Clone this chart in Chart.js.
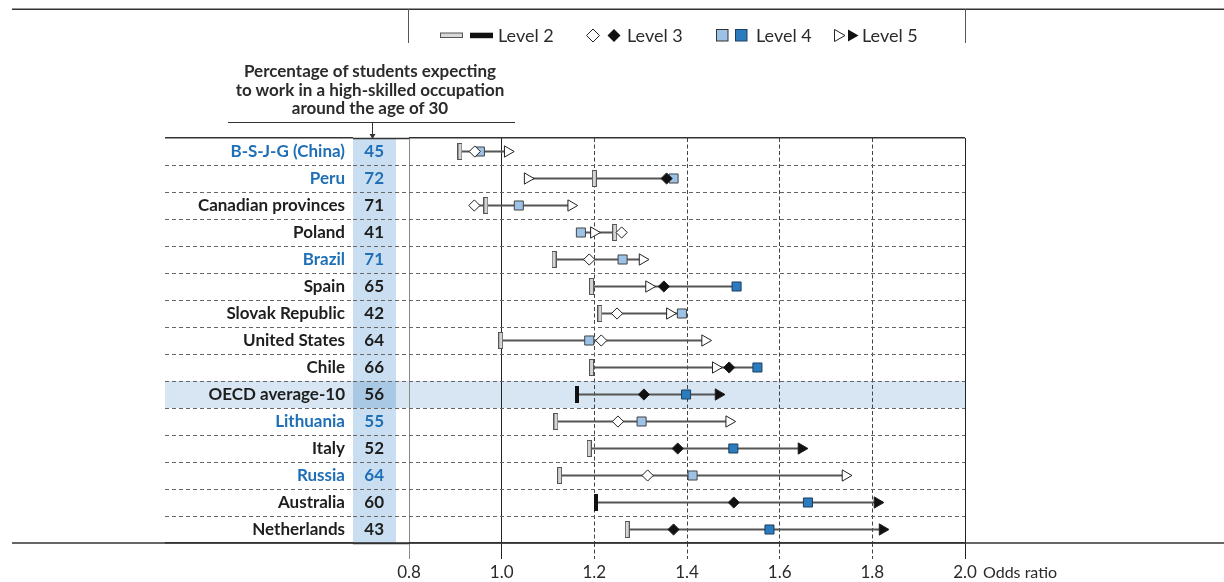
<!DOCTYPE html>
<html>
<head>
<meta charset="utf-8">
<script src="https://cdn.jsdelivr.net/npm/chart.js@4.4.1/dist/chart.umd.min.js"></script>
<style>
  html, body { margin: 0; padding: 0; background: #fff; }
  #wrap { position: relative; width: 1224px; height: 582px; overflow: hidden;
          font-family: Lato, "Open Sans", sans-serif; color: #2b2b2b; }
  #chart { position: absolute; left: 0; top: 0; }
  #overlay { position: absolute; left: 0; top: 0; pointer-events: none; }
  .txt { position: absolute; white-space: nowrap; }
  #colTitle { left: 220px; top: 62px; width: 300px; text-align: center;
              font-weight: bold; font-size: 17px; line-height: 18.5px; }
  .legText { font-size: 18px; line-height: 20px; top: 25px; }
  #axisName { left: 983px; top: 562px; font-size: 16px; line-height: 20px; }
</style>
</head>
<body>
<div id="wrap">
  <canvas id="chart" width="1224" height="582"></canvas>
  <svg id="overlay" width="1224" height="582"></svg>
  <div id="colTitle" class="txt">Percentage of students expecting<br>to work in a high-skilled occupation<br>around the age of 30</div>
  <div id="axisName" class="txt">Odds ratio</div>
</div>
<script>
// Rows, top to bottom
const countries = ["B-S-J-G (China)", "Peru", "Canadian provinces", "Poland", "Brazil", "Spain",
  "Slovak Republic", "United States", "Chile", "OECD average-10", "Lithuania", "Italy",
  "Russia", "Australia", "Netherlands"];
// Percentage of students expecting a high-skilled occupation around age 30
const pctHighSkilled = [45, 72, 71, 41, 71, 65, 42, 64, 66, 56, 55, 52, 64, 60, 43];
// Partner economies are labelled in blue
const partnerRows = [1, 1, 0, 0, 1, 0, 0, 0, 0, 0, 1, 0, 1, 0, 0];
const averageRow = "OECD average-10";

// Odds ratios by proficiency level, with statistical significance flags
const level2    = [0.910, 1.200, 0.966, 1.244, 1.113, 1.194, 1.212, 0.998, 1.194, 1.163, 1.117, 1.189, 1.125, 1.203, 1.271];
const level2Sig = [0, 0, 0, 0, 0, 0, 0, 0, 0, 1, 0, 0, 0, 1, 0];
const level3    = [0.942, 1.356, 0.941, 1.259, 1.189, 1.350, 1.249, 1.215, 1.491, 1.307, 1.251, 1.380, 1.315, 1.501, 1.371];
const level3Sig = [0, 1, 0, 0, 0, 1, 0, 0, 1, 1, 0, 1, 0, 1, 1];
const level4    = [0.953, 1.371, 1.037, 1.171, 1.261, 1.507, 1.389, 1.189, 1.552, 1.398, 1.302, 1.500, 1.412, 1.661, 1.578];
const level4Sig = [0, 0, 0, 0, 0, 1, 0, 0, 1, 1, 0, 1, 0, 1, 1];
const level5    = [1.013, 1.056, 1.150, 1.199, 1.304, 1.318, 1.363, 1.439, 1.462, 1.468, 1.491, 1.647, 1.742, 1.811, 1.822];
const level5Sig = [0, 0, 0, 0, 0, 0, 0, 0, 0, 1, 0, 1, 0, 1, 1];

const levelNames = ["Level 2", "Level 3", "Level 4", "Level 5"];
const oddsTicks = [0.8, 1.0, 1.2, 1.4, 1.6, 1.8, 2.0];

const INK = '#2b2b2b';
const BLUE_TEXT = '#1f6fb6';
const SQ_LIGHT = '#9cc2e5', SQ_DARK = '#2b7bbf';
const FONT = 'Lato, "Open Sans", sans-serif';

// ---- overlay rules, arrow and legend ----
const svgNS = 'http://www.w3.org/2000/svg';
const overlay = document.getElementById('overlay');
function svgEl(tag, attrs) {
  const e = document.createElementNS(svgNS, tag);
  for (const k in attrs) e.setAttribute(k, attrs[k]);
  overlay.appendChild(e);
  return e;
}
svgEl('line', {x1: 12, y1: 9.2, x2: 1224, y2: 9.2, stroke: '#333', 'stroke-width': 1.6});
svgEl('line', {x1: 408.5, y1: 9, x2: 408.5, y2: 43, stroke: '#555', 'stroke-width': 1});
svgEl('line', {x1: 965.5, y1: 9, x2: 965.5, y2: 43, stroke: '#555', 'stroke-width': 1});
svgEl('line', {x1: 228, y1: 122.5, x2: 515, y2: 122.5, stroke: '#333', 'stroke-width': 1});
svgEl('line', {x1: 372.5, y1: 122.5, x2: 372.5, y2: 136, stroke: '#333', 'stroke-width': 1});
svgEl('path', {d: 'M369.5,134 L375.5,134 L372.5,139 Z', fill: '#333'});

// legend swatches
const legY = 35.5;
svgEl('rect', {x: 440.5, y: legY - 2.5, width: 22, height: 4.5, fill: '#d9d9d9', stroke: '#555', 'stroke-width': 1});
svgEl('rect', {x: 470, y: legY - 2.8, width: 23, height: 5.5, fill: '#111'});
svgEl('path', {d: `M${593 - 6.5},${legY} L593,${legY - 6.5} L${593 + 6.5},${legY} L593,${legY + 6.5} Z`, fill: '#fff', stroke: '#222', 'stroke-width': 1});
svgEl('path', {d: `M${614 - 6.5},${legY} L614,${legY - 6.5} L${614 + 6.5},${legY} L614,${legY + 6.5} Z`, fill: '#111'});
svgEl('rect', {x: 716.5, y: legY - 6, width: 11.5, height: 11.5, fill: SQ_LIGHT, stroke: '#333', 'stroke-width': 1});
svgEl('rect', {x: 735.5, y: legY - 6, width: 11.5, height: 11.5, fill: SQ_DARK, stroke: '#1d3e5e', 'stroke-width': 1});
svgEl('path', {d: `M834.5,${legY - 6} L845,${legY} L834.5,${legY + 6} Z`, fill: '#fff', stroke: '#222', 'stroke-width': 1});
svgEl('path', {d: `M848,${legY - 6} L858.5,${legY} L848,${legY + 6} Z`, fill: '#111'});

const legTextX = [498, 627, 756, 862];
levelNames.forEach((name, k) => {
  const d = document.createElement('div');
  d.className = 'txt legText';
  d.style.left = legTextX[k] + 'px';
  d.textContent = name;
  document.getElementById('wrap').appendChild(d);
});

// ---- marker images for Level 2 ----
function barIcon(fill, stroke, w, h) {
  const c = document.createElement('canvas');
  c.width = w; c.height = h;
  const g = c.getContext('2d');
  g.fillStyle = fill; g.fillRect(0, 0, w, h);
  if (stroke) { g.strokeStyle = stroke; g.lineWidth = 1; g.strokeRect(0.5, 0.5, w - 1, h - 1); }
  return c;
}
const l2Open = barIcon('#d4d4d4', '#555', 5, 17);
const l2Solid = barIcon('#111', null, 4, 17);

// ---- chart ----
const rows = countries.map((_, i) => i);
const highlight = countries.indexOf(averageRow);
const ranges = rows.map(i => {
  const v = [level2[i], level3[i], level4[i], level5[i]];
  return {x: [Math.min(...v), Math.max(...v)], y: i};
});
const pts = arr => rows.map(i => ({x: arr[i], y: i}));

const isEdge = ctx => ctx.index === undefined || ctx.index === 0 || ctx.index >= countries.length;
const rowLineColor = ctx => isEdge(ctx) ? '#333' : '#666';
const rowLineWidth = ctx => isEdge(ctx) ? 1.5 : 1;
const rowLineDash = ctx => isEdge(ctx) ? [] : [4, 3];

const xGridColor = ctx => {
  const v = oddsTicks[ctx.index];
  if (v === 0.8) return '#8a8a8a';
  if (v === 1.0 || v === 2.0) return '#222';
  return '#444';
};
const xGridDash = ctx => {
  const v = oddsTicks[ctx.index];
  return (v === 0.8 || v === 1.0 || v === 2.0) ? [] : [4, 2.5];
};

const tableBackground = {
  id: 'tableBackground',
  beforeDraw(chart) {
    const {ctx, chartArea} = chart;
    const y = chart.scales.y, yv = chart.scales.yv;
    const top = y.getPixelForValue(highlight - 0.5);
    const bot = y.getPixelForValue(highlight + 0.5);
    ctx.save();
    ctx.fillStyle = '#d7e6f2';
    ctx.fillRect(y.left, top, chartArea.right - y.left, bot - top);
    ctx.fillStyle = '#c9def0';
    ctx.fillRect(yv.left, chartArea.top, 43, chartArea.bottom - chartArea.top);
    ctx.fillStyle = '#a9c8e4';
    ctx.fillRect(yv.left, top, 43, bot - top);
    ctx.restore();
  },
  afterDraw(chart) {
    const {ctx, chartArea} = chart;
    ctx.save();
    ctx.strokeStyle = '#333';
    ctx.lineWidth = 1.5;
    ctx.beginPath();
    ctx.moveTo(12, chartArea.bottom);
    ctx.lineTo(chart.width, chartArea.bottom);
    ctx.stroke();
    ctx.restore();
  }
};

new Chart(document.getElementById('chart'), {
  type: 'scatter',
  data: {
    datasets: [
      {
        type: 'bar', indexAxis: 'y', data: ranges, xAxisID: 'x', yAxisID: 'y',
        backgroundColor: '#555', borderWidth: 0, barThickness: 1.5, order: 5
      },
      {
        label: levelNames[0], data: pts(level2), xAxisID: 'x', yAxisID: 'y',
        pointStyle: ctx => level2Sig[ctx.dataIndex] ? l2Solid : l2Open, order: 4
      },
      {
        label: levelNames[2], data: pts(level4), xAxisID: 'x', yAxisID: 'y',
        pointStyle: 'rect', pointRadius: 6.4, pointBorderWidth: 1,
        pointBackgroundColor: ctx => level4Sig[ctx.dataIndex] ? SQ_DARK : SQ_LIGHT,
        pointBorderColor: ctx => level4Sig[ctx.dataIndex] ? '#1d3e5e' : '#444', order: 3
      },
      {
        label: levelNames[3], data: pts(level5), xAxisID: 'x', yAxisID: 'y',
        pointStyle: 'triangle', pointRotation: 90, pointRadius: 6.5, pointBorderWidth: 1,
        pointBackgroundColor: ctx => level5Sig[ctx.dataIndex] ? '#111' : '#fff',
        pointBorderColor: '#222', order: 2
      },
      {
        label: levelNames[1], data: pts(level3), xAxisID: 'x', yAxisID: 'y',
        pointStyle: 'rectRot', pointRadius: 5.6, pointBorderWidth: 1,
        pointBackgroundColor: ctx => level3Sig[ctx.dataIndex] ? '#111' : '#fff',
        pointBorderColor: '#222', order: 1
      }
    ]
  },
  options: {
    responsive: false,
    animation: false,
    events: [],
    layout: {padding: {left: 165, right: 259, top: 138, bottom: 0}},
    plugins: {legend: {display: false}, tooltip: {enabled: false}},
    scales: {
      x: {
        type: 'linear', position: 'bottom', min: 0.8, max: 2.0, offset: false, beginAtZero: false,
        afterBuildTicks: s => { s.ticks = oddsTicks.map(v => ({value: v})); },
        afterFit: s => { s.height = 39; },
        border: {display: false, dash: xGridDash},
        grid: {
          offset: false, color: xGridColor, lineWidth: 1, drawTicks: true, tickLength: 16,
          tickColor: xGridColor, tickWidth: 1, tickBorderDash: xGridDash
        },
        ticks: {
          autoSkip: false, maxRotation: 0, padding: 3, color: INK,
          font: {family: FONT, size: 17},
          callback: v => v.toFixed(1)
        }
      },
      y: {
        type: 'linear', position: 'left', weight: 1, reverse: true, offset: false,
        min: -0.5, max: countries.length - 0.5,
        afterBuildTicks: s => { s.ticks = rows.map(i => ({value: i})); },
        afterFit: s => { s.width = 188; },
        border: {display: false, dash: rowLineDash},
        grid: {
          offset: true, drawOnChartArea: true, color: rowLineColor, lineWidth: rowLineWidth,
          tickLength: 188, tickColor: rowLineColor, tickWidth: rowLineWidth, tickBorderDash: rowLineDash
        },
        ticks: {
          autoSkip: false, crossAlign: 'near', padding: -180,
          callback: v => countries[v],
          color: ctx => partnerRows[ctx.index] ? BLUE_TEXT : '#1e1e1e',
          font: {family: FONT, size: 17, weight: 'bold'}
        }
      },
      yv: {
        type: 'linear', position: 'left', weight: 0, reverse: true, offset: false,
        min: -0.5, max: countries.length - 0.5,
        afterBuildTicks: s => { s.ticks = rows.map(i => ({value: i})); },
        afterFit: s => { s.width = 56; },
        border: {display: false},
        grid: {
          offset: true, drawOnChartArea: false, tickLength: 56,
          tickColor: rowLineColor, tickWidth: rowLineWidth, tickBorderDash: rowLineDash
        },
        ticks: {
          autoSkip: false, crossAlign: 'center', padding: -31,
          callback: v => String(pctHighSkilled[v]),
          color: ctx => partnerRows[ctx.index] ? BLUE_TEXT : '#1e1e1e',
          font: {family: FONT, size: 17, weight: 'bold'}
        }
      }
    }
  },
  plugins: [tableBackground]
});
</script>
</body>
</html>
